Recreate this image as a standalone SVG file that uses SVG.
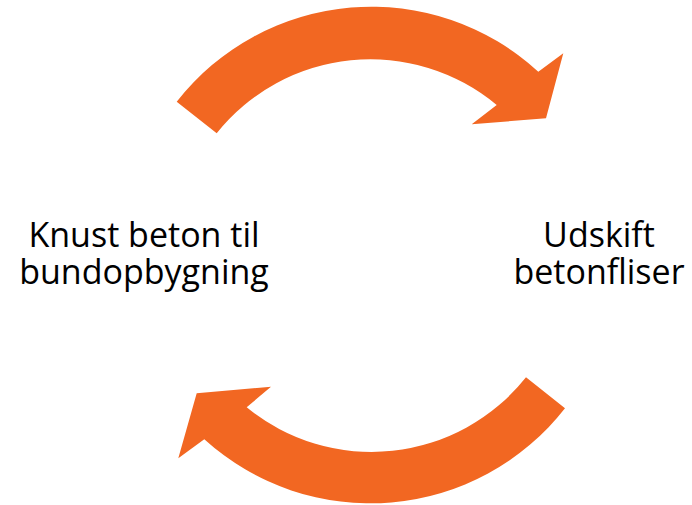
<svg xmlns="http://www.w3.org/2000/svg" width="692" height="505" viewBox="0 0 692 505">
  <style>
    .arrow { fill: #F26722; }
    .label { font-family: "Open Sans", "Noto Sans", sans-serif; font-size: 34px; fill: #000000; text-anchor: middle; }
  </style>
  <rect width="692" height="505" fill="#ffffff"/>
  <g id="connectors">
    <path id="arrow-top" class="arrow" d="M 176.7,101.7 A 247 247 0 0 1 538.3,71.7 L 563.3,53.3 L 546,118.3 L 471.7,124.3 L 496.7,105 A 197 197 0 0 0 216.7,133.3 Z"/>
    <path id="arrow-bottom" class="arrow" d="M 565,408.3 A 247 247 0 0 1 204.3,439.3 L 178.3,458.3 L 196.7,393.3 L 271,386.7 L 246.7,407.3 A 197 197 0 0 0 526,377.3 Z"/>
  </g>
  <g id="node-left">
    <text class="label" x="144" y="247">Knust beton til</text>
    <text class="label" x="144" y="284">bundopbygning</text>
  </g>
  <g id="node-right">
    <text class="label" x="599" y="247">Udskift</text>
    <text class="label" x="599" y="284">betonfliser</text>
  </g>
</svg>
